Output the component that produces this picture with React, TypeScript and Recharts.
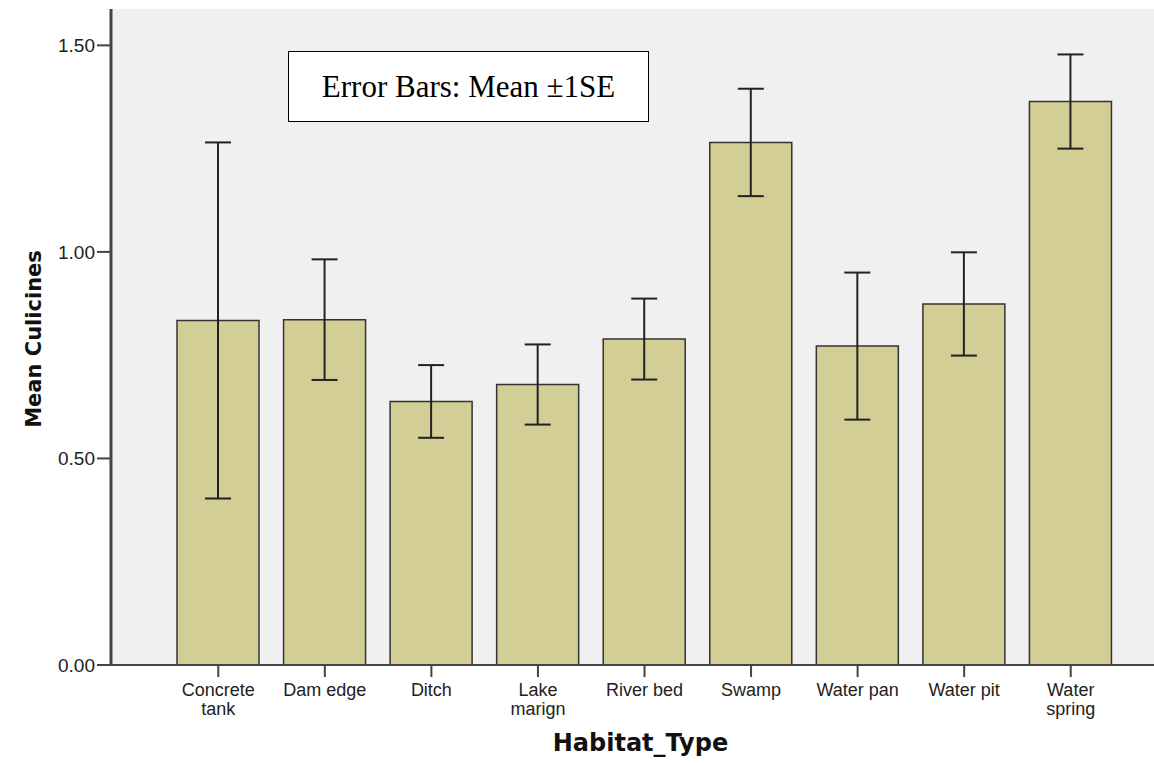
import { Bar, BarChart, CartesianGrid, ErrorBar, XAxis, YAxis } from "recharts";

const habitats = [
  "Concrete\ntank",
  "Dam edge",
  "Ditch",
  "Lake\nmarign",
  "River bed",
  "Swamp",
  "Water pan",
  "Water pit",
  "Water\nspring",
];
const means = [0.834, 0.836, 0.638, 0.679, 0.789, 1.265, 0.772, 0.874, 1.364];
const stdErrs = [0.431, 0.146, 0.088, 0.097, 0.098, 0.13, 0.178, 0.125, 0.114];
const yTicks = [0, 0.5, 1, 1.5];

const rows = habitats.map((name, i) => ({ name, mean: means[i], se: stdErrs[i] }));

const sans = "'Liberation Sans', Arial, sans-serif";
const bold = "'DejaVu Sans', Verdana, sans-serif";

function HabitatTick(props: any) {
  const { x, y, payload } = props;
  const lines = String(payload.value).split("\n");
  return (
    <g>
      {lines.map((l, i) => (
        <text
          key={i}
          x={x}
          y={y + 17 + i * 19}
          textAnchor="middle"
          fontFamily={sans}
          fontSize={18}
          fill="#222"
        >
          {l}
        </text>
      ))}
    </g>
  );
}

function XTitle(props: any) {
  const vb = props.viewBox;
  return (
    <text
      x={vb.x + vb.width / 2 + 8}
      y={vb.y + 86}
      textAnchor="middle"
      fontFamily={bold}
      fontWeight="bold"
      fontSize={24}
      fill="#111"
    >
      Habitat_Type
    </text>
  );
}

function YTitle(props: any) {
  const vb = props.viewBox;
  const cx = vb.x + 34;
  const cy = vb.y + vb.height / 2 + 2;
  return (
    <text
      x={cx}
      y={cy}
      transform={`rotate(-90 ${cx} ${cy})`}
      textAnchor="middle"
      dominantBaseline="central"
      fontFamily={bold}
      fontWeight="bold"
      fontSize={21}
      fill="#111"
    >
      Mean Culicines
    </text>
  );
}

export default function App() {
  return (
    <div style={{ position: "absolute", left: 0, top: 0, width: 1154, height: 763, background: "#fff" }}>
      <BarChart
        width={1154}
        height={763}
        data={rows}
        margin={{ top: 9, right: 0, left: 0, bottom: 0 }}
        barSize={82}
      >
        <CartesianGrid fill="#f0f0f0" horizontal={false} vertical={false} stroke="none" />
        <XAxis
          dataKey="name"
          height={98}
          padding={{ left: 54, right: 30 }}
          interval={0}
          tick={<HabitatTick />}
          tickSize={12}
          axisLine={{ stroke: "#444", strokeWidth: 2 }}
          tickLine={{ stroke: "#444", strokeWidth: 2 }}
          label={<XTitle />}
        />
        <YAxis
          width={111}
          domain={[0, 1.588]}
          ticks={yTicks}
          tickFormatter={(v: number) => v.toFixed(2)}
          tickSize={14}
          tickMargin={2}
          tick={{ fontFamily: sans, fontSize: 19, fill: "#222" }}
          axisLine={{ stroke: "#444", strokeWidth: 3 }}
          tickLine={{ stroke: "#444", strokeWidth: 2 }}
          label={<YTitle />}
        />
        <Bar dataKey="mean" fill="#d3ce96" stroke="#333" strokeWidth={1.5} isAnimationActive={false}>
          <ErrorBar dataKey="se" width={13} stroke="#222" strokeWidth={2} isAnimationActive={false} />
        </Bar>
      </BarChart>
      <div
        style={{
          position: "absolute",
          left: 288,
          top: 51,
          width: 359,
          height: 69,
          border: "1px solid #000",
          background: "#fff",
          display: "flex",
          alignItems: "center",
          justifyContent: "center",
          fontFamily: "'Liberation Serif', 'Times New Roman', serif",
          fontSize: 31,
          color: "#000",
        }}
      >
        Error Bars: Mean ±1SE
      </div>
    </div>
  );
}
